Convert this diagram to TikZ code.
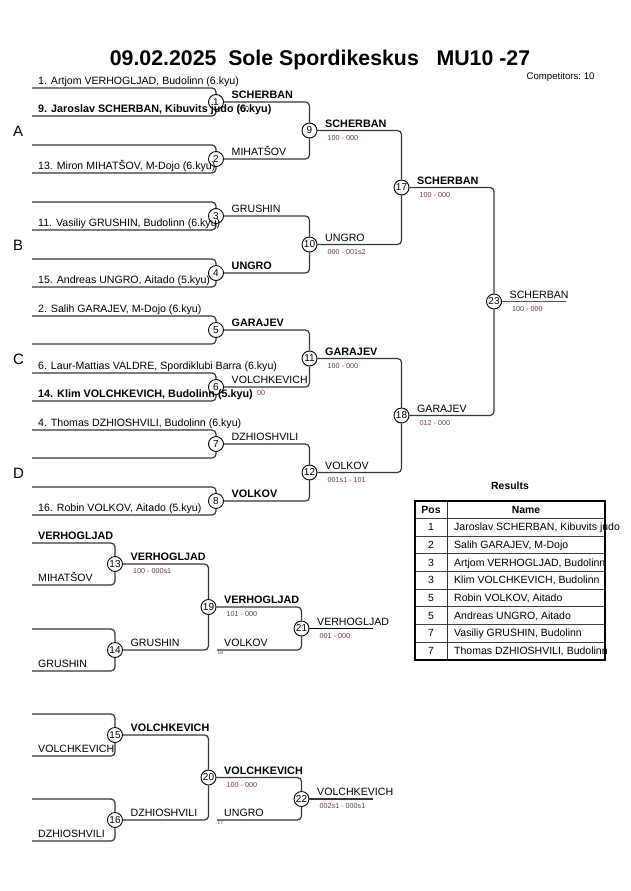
\documentclass[tikz,border=0pt]{standalone}
\usepackage{fontspec}
\setmainfont{Liberation Sans}
\definecolor{scorecol}{RGB}{105,62,62}
\definecolor{linecol}{RGB}{55,55,55}
\begin{document}
\begin{tikzpicture}[x=1pt,y=-1pt,
  br/.style={draw=linecol, line width=1.2pt, rounded corners=4pt},
  fin/.style={draw=black!65, line width=1.9pt},
  mc/.style={circle, draw=black, line width=0.9pt, fill=white, inner sep=0pt, minimum size=15pt, font=\fontsize{10}{10}\selectfont},
  nm/.style={anchor=base west, inner sep=0pt, font=\fontsize{10.6}{12}\selectfont},
  nb/.style={anchor=base west, inner sep=0pt, font=\fontsize{10.8}{12}\selectfont\bfseries},
  sc/.style={anchor=base west, inner sep=0pt, text=scorecol, font=\fontsize{7.2}{8}\selectfont},
  tn/.style={anchor=base west, inner sep=0pt, text=scorecol, font=\fontsize{4.8}{5}\selectfont},
  grp/.style={anchor=base west, inner sep=0pt, font=\fontsize{15}{16}\selectfont},
  tb/.style={anchor=base, inner sep=0pt, font=\fontsize{10.4}{12}\selectfont\bfseries},
  tc/.style={anchor=base, inner sep=0pt, font=\fontsize{10.4}{12}\selectfont},
  tl/.style={anchor=base west, inner sep=0pt, font=\fontsize{10.5}{12}\selectfont}
]
\fill[white] (0,0) rectangle (630,891);
\useasboundingbox (0,0) rectangle (630,891);

% title
\node[anchor=base, inner sep=0pt, font=\fontsize{21.3}{24}\selectfont\bfseries] (title) at (320,65.7) {09.02.2025~~Sole Spordikeskus~~~MU10 -27};
\node[anchor=base west, inner sep=0pt, font=\fontsize{9.6}{11}\selectfont] (comp) at (526.5,80) {Competitors:~10};

% group letters
\node[grp] (gA) at (13,136.7) {A};
\node[grp] (gB) at (13,250.7) {B};
\node[grp] (gC) at (13,364.7) {C};
\node[grp] (gD) at (13,478.7) {D};

% round 1
\foreach \k in {1,...,8} {
  \pgfmathsetmacro\yy{102+57*(\k-1)}
  \node[mc] (m\k) at (216,\yy) {\k};
  \coordinate (it\k) at (32,{\yy-14});
  \coordinate (ib\k) at (32,{\yy+14});
  \draw[br] (it\k) -| (m\k);
  \draw[br] (ib\k) -| (m\k);
}

% round 2
\node[mc] (m9) at (309.5,130.5) {9};
\node[mc] (m10) at (309.5,244.5) {10};
\node[mc] (m11) at (309.5,358.5) {11};
\node[mc] (m12) at (309.5,472.5) {12};
\draw[br] (m1) -| (m9);  \draw[br] (m2) -| (m9);
\draw[br] (m3) -| (m10); \draw[br] (m4) -| (m10);
\draw[br] (m5) -| (m11); \draw[br] (m6) -| (m11);
\draw[br] (m7) -| (m12); \draw[br] (m8) -| (m12);

% round 3 and final
\node[mc] (m17) at (401.5,187.5) {17};
\node[mc] (m18) at (401.5,415.5) {18};
\node[mc] (m23) at (494,301.5) {23};
\draw[br] (m9) -| (m17);  \draw[br] (m10) -| (m17);
\draw[br] (m11) -| (m18); \draw[br] (m12) -| (m18);
\draw[br] (m17) -| (m23); \draw[br] (m18) -| (m23);
\coordinate (f23) at (566,301.5);
\draw[fin] (m23) -- (f23);

% repechage 1
\node[mc] (m13) at (115,564) {13};
\node[mc] (m14) at (115,650) {14};
\node[mc] (m19) at (208.5,607) {19};
\node[mc] (m21) at (301.5,628.5) {21};
\coordinate (r13a) at (32,543); \coordinate (r13b) at (32,585);
\coordinate (r14a) at (32,629); \coordinate (r14b) at (32,671);
\draw[br] (r13a) -| (m13); \draw[br] (r13b) -| (m13);
\draw[br] (r14a) -| (m14); \draw[br] (r14b) -| (m14);
\draw[br] (m13) -| (m19); \draw[br] (m14) -| (m19);
\coordinate (r18) at (217,650);
\draw[br] (m19) -| (m21); \draw[br] (r18) -| (m21);
\coordinate (f21) at (373,628.5);
\draw[br, line width=1.4pt, draw=black] (m21) -- (f21);

% repechage 2
\node[mc] (m15) at (115,735) {15};
\node[mc] (m16) at (115,820) {16};
\node[mc] (m20) at (208.5,777.5) {20};
\node[mc] (m22) at (301.5,799) {22};
\coordinate (r15a) at (32,714); \coordinate (r15b) at (32,756);
\coordinate (r16a) at (32,799); \coordinate (r16b) at (32,841);
\draw[br] (r15a) -| (m15); \draw[br] (r15b) -| (m15);
\draw[br] (r16a) -| (m16); \draw[br] (r16b) -| (m16);
\draw[br] (m15) -| (m20); \draw[br] (m16) -| (m20);
\coordinate (r17) at (217,820);
\draw[br] (m20) -| (m22); \draw[br] (r17) -| (m22);
\coordinate (f22) at (373,799);
\draw[br, line width=1.4pt, draw=black!80] (m22) -- (f22);

% scores hidden fragments
\node[sc] (s1) at (237,111) {000};
\node[sc] (s6) at (257,395.5) {00};

% entry labels
\node[nm] (e1) at (38,84.5) {1. Artjom VERHOGLJAD, Budolinn (6.kyu)};
\node[nb] (e9) at (38,112.5) {9. Jaroslav SCHERBAN, Kibuvits judo (6.kyu)};
\node[nm] (e13) at (38,169.5) {13. Miron MIHATŠOV, M-Dojo (6.kyu)};
\node[nm] (e11) at (38,226.5) {11. Vasiliy GRUSHIN, Budolinn (6.kyu)};
\node[nm] (e15) at (38,283.5) {15. Andreas UNGRO, Aitado (5.kyu)};
\node[nm] (e2) at (38,312.5) {2. Salih GARAJEV, M-Dojo (6.kyu)};
\node[nm] (e6) at (38,369.5) {6. Laur-Mattias VALDRE, Spordiklubi Barra (6.kyu)};
\node[nb] (e14) at (38,397.5) {14. Klim VOLCHKEVICH, Budolinn (5.kyu)};
\node[nm] (e4) at (38,426.5) {4. Thomas DZHIOSHVILI, Budolinn (6.kyu)};
\node[nm] (e16) at (38,511.5) {16. Robin VOLKOV, Aitado (5.kyu)};

% round 1 winners
\node[nb] (w1) at (231.5,98.5) {SCHERBAN};
\node[nm] (w2) at (231.5,155.5) {MIHATŠOV};
\node[nm] (w3) at (231.5,212.5) {GRUSHIN};
\node[nb] (w4) at (231.5,269.5) {UNGRO};
\node[nb] (w5) at (231.5,326.5) {GARAJEV};
\node[nm] (w6) at (231.5,383.5) {VOLCHKEVICH};
\node[nm] (w7) at (231.5,440.5) {DZHIOSHVILI};
\node[nb] (w8) at (231.5,497.5) {VOLKOV};

% round 2 winners
\node[nb] (w9) at (325,127) {SCHERBAN};
\node[sc] (s9) at (327.5,140.2) {100 - 000};
\node[nm] (w10) at (325,241) {UNGRO};
\node[sc] (s10) at (327.5,254.2) {000 - 001s2};
\node[nb] (w11) at (325,355) {GARAJEV};
\node[sc] (s11) at (327.5,368.2) {100 - 000};
\node[nm] (w12) at (325,469) {VOLKOV};
\node[sc] (s12) at (327.5,482.2) {001s1 - 101};

% round 3 and final winners
\node[nb] (w17) at (417,184) {SCHERBAN};
\node[sc] (s17) at (419.5,197.2) {100 - 000};
\node[nm] (w18) at (417,412) {GARAJEV};
\node[sc] (s18) at (419.5,425.2) {012 - 000};
\node[nm] (w23) at (509.5,298) {SCHERBAN};
\node[sc] (s23) at (512,311.2) {100 - 000};

% repechage 1 labels
\node[nb] (q13a) at (38,539.5) {VERHOGLJAD};
\node[nm] (q13b) at (38,581.5) {MIHATŠOV};
\node[nm] (q14b) at (38,667.5) {GRUSHIN};
\node[nb] (w13) at (130.5,560.5) {VERHOGLJAD};
\node[sc] (s13) at (133,573.7) {100 - 000s1};
\node[nm] (w14) at (130.5,646.5) {GRUSHIN};
\node[nb] (w19) at (224,603.5) {VERHOGLJAD};
\node[sc] (s19) at (226.5,616.7) {101 - 000};
\node[nm] (q18) at (224,646.5) {VOLKOV};
\node[tn] (n18) at (217.5,654.8) {18};
\node[nm] (w21) at (317,625) {VERHOGLJAD};
\node[sc] (s21) at (319.5,638.2) {001 - 000};

% repechage 2 labels
\node[nm] (q15b) at (38,752.5) {VOLCHKEVICH};
\node[nm] (q16b) at (38,837.5) {DZHIOSHVILI};
\node[nb] (w15) at (130.5,731.5) {VOLCHKEVICH};
\node[nm] (w16) at (130.5,816.5) {DZHIOSHVILI};
\node[nb] (w20) at (224,774) {VOLCHKEVICH};
\node[sc] (s20) at (226.5,787.2) {100 - 000};
\node[nm] (q17) at (224,816.5) {UNGRO};
\node[tn] (n17) at (217.5,824.8) {17};
\node[nm] (w22) at (317,795.5) {VOLCHKEVICH};
\node[sc] (s22) at (319.5,808.7) {002s1 - 000s1};

% results table
\node[tb] (restitle) at (510,489) {Results};
\foreach \i in {1,...,8} {
  \draw[black!75, line width=0.8pt] (415,{500.7+17.67*\i}) -- (605,{500.7+17.67*\i});
}
\draw[black!80, line width=0.8pt] (447,500.7) -- (447,659.7);
\draw[black, line width=1.6pt] (415,500.7) rectangle (605,659.7);
\node[tb] (hpos) at (431,513.2) {Pos};
\node[tb] (hname) at (526,513.2) {Name};
\foreach \i/\p/\n in {1/1/{Jaroslav SCHERBAN, Kibuvits judo},2/2/{Salih GARAJEV, M-Dojo},3/3/{Artjom VERHOGLJAD, Budolinn},4/3/{Klim VOLCHKEVICH, Budolinn},5/5/{Robin VOLKOV, Aitado},6/5/{Andreas UNGRO, Aitado},7/7/{Vasiliy GRUSHIN, Budolinn},8/7/{Thomas DZHIOSHVILI, Budolinn}} {
  \node[tc] (rp\i) at (431,{513.2+17.67*\i}) {\p};
  \node[tl] (rn\i) at (454,{513.2+17.67*\i}) {\n};
}
\end{tikzpicture}
\end{document}
